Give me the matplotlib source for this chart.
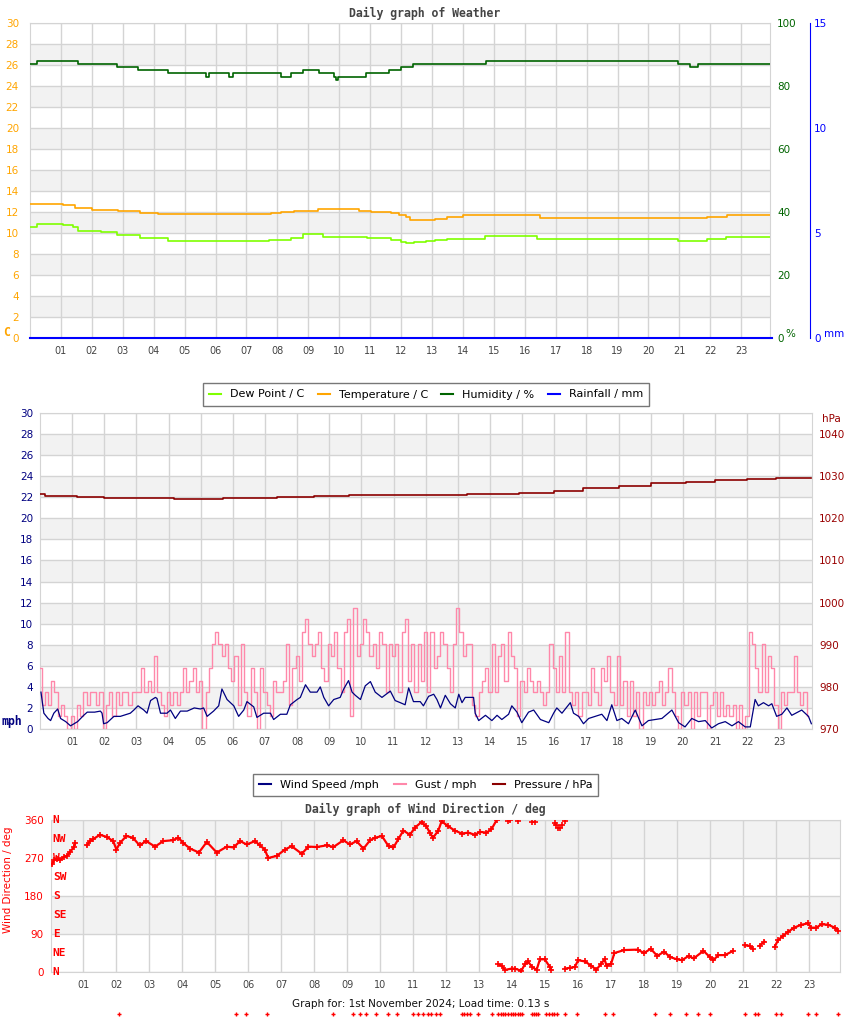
import matplotlib
matplotlib.use("Agg")
import matplotlib.pyplot as plt
import numpy as np
from matplotlib.lines import Line2D

W, H = 850, 1017

# ---------------- data ----------------
hours = ["%02d" % h for h in range(1, 24)]

# panel 1 (steps: time in hours, value)
temp_t = [0, 1.08, 1.45, 1.99, 2.85, 3.55, 4.14, 7.8, 8.12, 8.55, 9.3, 10.65, 11.02, 11.67,
          11.94, 12.15, 12.3, 13.1, 13.5, 14.0, 16.5, 21.9, 22.53, 24.0]
temp_v = [12.73, 12.64, 12.38, 12.22, 12.1, 11.9, 11.81, 11.87, 12.0, 12.1, 12.25, 12.1, 11.96, 11.87,
          11.68, 11.49, 11.2, 11.37, 11.56, 11.68, 11.4, 11.52, 11.71, 11.71]
dew_t = [0, 0.22, 1.08, 1.4, 1.56, 2.31, 2.8, 3.55, 4.46, 7.74, 8.44, 8.82, 9.46, 10.9, 11.67,
         11.99, 12.15, 12.42, 12.8, 13.1, 13.5, 14.7, 16.4, 20.95, 21.9, 22.5, 24.0]
dew_v = [10.6, 10.89, 10.8, 10.57, 10.22, 10.06, 9.81, 9.56, 9.24, 9.33, 9.56, 9.87, 9.65, 9.5, 9.33,
         9.17, 9.0, 9.13, 9.2, 9.3, 9.46, 9.68, 9.46, 9.27, 9.43, 9.59, 9.59]
hum_t = [0, 0.22, 1.54, 2.8, 3.5, 4.47, 5.7, 5.8, 6.45, 6.55, 8.12, 8.44, 8.83, 9.35, 9.83, 9.9,
         9.95, 10.86, 11.6, 11.99, 12.38, 14.76, 20.96, 21.35, 21.6, 24.0]
hum_v = [87, 88, 87, 86, 85, 84, 83, 84, 83, 84, 83, 84, 85, 84, 83, 82,
         83, 84, 85, 86, 87, 88, 87, 86, 87, 87]
rain_t = [0, 24.0]
rain_v = [0, 0]

# panel 2
wind_t = [0.03, 0.12, 0.25, 0.33, 0.43, 0.55, 0.64, 0.8, 0.95, 1.17, 1.36, 1.47, 1.7, 1.88, 1.93, 1.98,
          2.09, 2.3, 2.5, 2.81, 2.92, 3.05, 3.23, 3.33, 3.44, 3.59, 3.64, 3.75, 3.95, 4.06, 4.21, 4.37,
          4.58, 4.8, 4.99, 5.09, 5.2, 5.4, 5.56, 5.66, 5.82, 6.03, 6.18, 6.34, 6.44, 6.65, 6.75, 6.96,
          7.17, 7.27, 7.48, 7.68, 7.79, 8.0, 8.1, 8.26, 8.41, 8.62, 8.72, 8.83, 8.98, 9.14, 9.34, 9.45,
          9.6, 9.71, 9.81, 9.97, 10.12, 10.28, 10.43, 10.64, 10.9, 11.05, 11.21, 11.36, 11.47, 11.62,
          11.83, 11.93, 12.09, 12.25, 12.35, 12.46, 12.61, 12.77, 12.92, 13.03, 13.13, 13.23, 13.49,
          13.54, 13.65, 13.86, 14.06, 14.22, 14.37, 14.58, 14.68, 14.84, 14.99, 15.2, 15.36, 15.57,
          15.83, 15.98, 16.08, 16.24, 16.5, 16.6, 16.76, 16.91, 17.07, 17.28, 17.48, 17.64, 17.79,
          17.95, 18.1, 18.31, 18.52, 18.73, 18.93, 19.14, 19.35, 19.66, 19.87, 20.07, 20.28, 20.49,
          20.7, 20.9, 21.11, 21.32, 21.53, 21.73, 21.94, 22.1, 22.25, 22.35, 22.51, 22.67, 22.77,
          22.92, 23.08, 23.24, 23.39, 23.7, 23.91, 24.0]
wind_v = [3.5, 1.5, 1.0, 0.8, 1.5, 1.9, 1.0, 0.7, 0.3, 0.7, 1.3, 1.6, 1.6, 1.7, 1.5, 0.5,
          0.6, 1.2, 1.2, 1.5, 1.8, 2.2, 1.8, 1.5, 2.7, 3.0, 2.9, 1.5, 1.5, 1.8, 1.0, 1.7,
          1.7, 2.0, 1.9, 2.0, 1.2, 1.7, 2.2, 3.8, 2.8, 2.2, 1.2, 1.8, 2.6, 2.1, 1.1, 1.5,
          1.5, 0.9, 1.4, 1.4, 2.3, 2.8, 3.0, 4.2, 3.5, 3.5, 4.0, 3.0, 2.2, 2.8, 3.0, 3.8,
          4.6, 3.5, 3.2, 2.8, 4.1, 4.5, 3.5, 3.0, 3.6, 2.7, 2.5, 2.3, 3.9, 2.6,
          2.6, 2.2, 3.1, 3.3, 2.8, 2.0, 3.2, 2.4, 2.0, 3.3, 2.5, 3.0, 3.0,
          1.5, 0.8, 1.3, 0.8, 1.3, 0.9, 1.4, 2.2, 1.6, 0.6, 1.6, 1.8, 0.9,
          0.6, 1.5, 2.0, 1.5, 2.5, 1.5, 1.2, 0.5, 1.0, 1.2, 1.4, 0.8, 2.3,
          0.8, 1.0, 0.5, 1.8, 0.3, 0.8, 0.9, 1.0, 1.8, 0.6, 0.2, 1.0, 0.7,
          0.8, 0.1, 0.5, 0.7, 0.3, 0.7, 0.2, 0.2, 2.8, 2.2, 2.5, 2.2, 2.4,
          1.2, 1.4, 2.0, 1.3, 1.8, 1.2, 0.5]

gust_step = 0.1  # hours between gust readings
gust_v = [5.8, 2.3, 3.5, 2.3, 4.6, 3.5, 1.2, 2.3, 1.2, 0.0,
          1.2, 0.0, 2.3, 1.2, 3.5, 2.3, 3.5, 3.5, 2.3, 3.5,
          0.0, 2.3, 3.5, 1.2, 3.5, 2.3, 3.5, 3.5, 2.3, 3.5,
          3.5, 3.5, 5.8, 3.5, 4.6, 3.5, 6.9, 3.5, 2.3, 1.2,
          3.5, 2.3, 3.5, 2.3, 3.5, 5.8, 3.5, 4.6, 5.8, 3.5,
          4.6, 0.0, 3.5, 5.8, 8.1, 9.2, 8.1, 6.9, 8.1, 5.8,
          4.6, 6.9, 2.3, 8.1, 3.5, 1.2, 5.8, 3.5, 0.0, 5.8,
          3.5, 2.3, 1.2, 4.6, 3.5, 3.5, 4.6, 8.1, 2.3, 5.8,
          6.9, 4.6, 9.2, 10.4, 8.1, 6.9, 8.1, 9.2, 5.8, 4.6,
          8.1, 6.9, 9.2, 5.8, 3.5, 9.2, 10.4, 1.2, 11.5, 6.9,
          8.1, 10.4, 9.2, 6.9, 8.1, 5.8, 9.2, 8.1, 3.5, 8.1,
          6.9, 8.1, 3.5, 9.2, 10.4, 4.6, 8.1, 3.5, 8.1, 4.6,
          9.2, 3.5, 9.2, 5.8, 6.9, 9.2, 8.1, 5.8, 3.5, 8.1,
          11.5, 9.2, 6.9, 8.1, 8.1, 2.3, 1.2, 3.5, 4.6, 5.8,
          3.5, 8.1, 3.5, 6.9, 8.1, 4.6, 9.2, 6.9, 5.8, 1.2,
          4.6, 3.5, 5.8, 4.6, 3.5, 4.6, 3.5, 2.3, 3.5, 8.1,
          5.8, 3.5, 6.9, 3.5, 9.2, 3.5, 2.3, 3.5, 1.2, 3.5,
          3.5, 2.3, 5.8, 3.5, 2.3, 5.8, 4.6, 6.9, 3.5, 2.3,
          6.9, 2.3, 4.6, 1.2, 4.6, 1.2, 3.5, 0.0, 3.5, 2.3,
          3.5, 2.3, 3.5, 4.6, 2.3, 3.5, 5.8, 3.5, 1.2, 0.0,
          3.5, 2.3, 3.5, 0.0, 3.5, 1.2, 3.5, 3.5, 0.0, 2.3,
          3.5, 1.2, 3.5, 1.2, 2.3, 1.2, 2.3, 0.0, 2.3, 0.0,
          1.2, 9.2, 8.1, 5.8, 3.5, 8.1, 3.5, 6.9, 5.8, 2.3,
          0.0, 3.5, 2.3, 3.5, 3.5, 6.9, 3.5, 2.3, 3.5, 1.2]

pres_t = [0, 0.17, 1.15, 1.98, 4.16, 5.7, 7.37, 8.51, 9.6, 11.4, 13.3, 14.9, 16.0, 16.9,
          18.0, 19.0, 20.1, 21.0, 22.0, 22.9, 24.0]
pres_v = [1025.7, 1025.3, 1025.0, 1024.8, 1024.6, 1024.8, 1025.0, 1025.3, 1025.6, 1025.5, 1025.8,
          1026.1, 1026.6, 1027.2, 1027.6, 1028.4, 1028.7, 1029.1, 1029.3, 1029.5, 1029.5]

# panel 3 (nan = gap in record)
dir_t = [0.05, 0.1, 0.2, 0.3, 0.4, 0.5, 0.6, 0.7, 0.75, 0.9,
         1.1, 1.2, 1.3, 1.5, 1.7, 1.9, 2.0, 2.1, 2.3, 2.5, 2.7, 2.9, 3.17, 3.42, 3.7, 3.88, 4.03,
         4.24, 4.5, 4.74, 5.04, 5.35, 5.55, 5.75, 5.95, 6.2, 6.35, 6.5, 6.6, 6.86, 7.11, 7.31,
         7.62, 7.82, 8.07, 8.38, 8.58, 8.88, 9.08, 9.28, 9.49, 9.69, 9.84, 10.05, 10.25, 10.4,
         10.55, 10.7, 10.9, 11.05, 11.25, 11.4, 11.5, 11.6, 11.76, 11.86, 12.06, 12.26, 12.47,
         12.67, 12.87, 13.02, 13.22, 13.37, 13.53, 13.56]
dir_v = [255, 265, 268, 266, 272, 275, 285, 295, 305, np.nan,
         300, 310, 315, 325, 320, 310, 290, 305, 322, 318, 300, 310, 297, 310, 312, 318, 305,
         292, 283, 308, 283, 297, 295, 310, 302, 310, 300, 290, 270, 275, 290, 298,
         280, 297, 296, 300, 296, 312, 302, 310, 292, 312, 318, 322, 298, 295,
         315, 335, 325, 342, 355, 345, 330, 318, 335, 357, 345, 335, 328,
         330, 325, 332, 330, 338, 360, np.nan]
north_t = [13.88, 13.93, 14.18, 14.6, 14.7, 15.3, 15.33, 15.4, 15.45, 15.5, 15.6]
north_v = [358, 359, 357, 355, 356, 352, 348, 340, 342, 348, 357]
low_t = [13.58, 13.68, 13.78, 13.98, 14.08, 14.28, 14.38, 14.48, 14.6, 14.74, 14.84, 14.99, 15.14,
         15.19, 15.4, 15.6, 15.75, 15.9, 16.0, 16.2, 16.4, 16.55, 16.7, 16.8, 16.86, 17.0, 17.1,
         17.4, 17.8, 18.0, 18.2, 18.4, 18.6, 18.8, 19.0, 19.15, 19.35, 19.5, 19.8, 20.0, 20.1,
         20.25, 20.45, 20.7, 20.9, 21.05, 21.2, 21.3, 21.4, 21.5, 21.65, 21.8, 21.96, 22.06,
         22.2, 22.36, 22.55, 22.77, 22.97, 23.07, 23.22, 23.38, 23.58, 23.78, 23.88]
low_v = [18, 15, 5, 8, 8, 3, 18, 25, 12, 5, 30, 30, 12,
         5, np.nan, 8, 10, 12, 28, 25, 15, 5, 20, 30, 15, 20, 45,
         52, 53, 45, 55, 38, 48, 35, 30, 28, 38, 32, 50, 35, 28,
         40, 40, 50, np.nan, 63, 62, 55, np.nan, 62, 72, np.nan, 60, 75,
         85, 95, 105, 112, 115, 105, 105, 113, 112, 105, 98]
stray_t = [2.09, 5.61, 5.93, 6.56, 8.58, 9.16, 9.38, 9.57, 9.86, 10.24, 10.52, 11.0, 11.15, 11.3,
           11.44, 11.55, 11.7, 11.8, 12.47, 12.55, 12.63, 12.72, 12.97, 13.38, 13.57, 13.65, 13.72,
           13.78, 13.87, 13.95, 14.02, 14.1, 14.18, 14.25, 14.3, 14.59, 14.65, 14.72, 14.79, 15.04,
           15.12, 15.2, 15.28, 15.35, 15.6, 15.95, 16.81, 17.06, 18.32, 18.78, 19.28, 19.64, 19.99,
           21.05, 21.35, 21.45, 22.0, 22.16, 22.97, 23.22, 23.88]
stray_v = [-100] * len(stray_t)
compass = ["N", "NE", "E", "SE", "S", "SW", "W", "NW", "N"]

# ---------------- styling helpers ----------------
GRID = "#d4d4d4"
BAND = "#f2f2f2"
XTXT = "#444444"
MONO = "DejaVu Sans Mono"


def box(x0, y0, x1, y1):
    return [x0 / W, 1 - y1 / H, (x1 - x0) / W, (y1 - y0) / H]


def base_axes(rect, xmax, ylo, yhi, ystep, bands):
    ax = fig.add_axes(rect)
    ax.set_xlim(0, xmax)
    ax.set_ylim(ylo, yhi)
    for lo, hi in bands:
        ax.axhspan(lo, hi, color=BAND, zorder=0, lw=0)
    for y in np.arange(ylo, yhi + 0.01, ystep):
        ax.axhline(y, color=GRID, lw=1, zorder=0.5)
    for h in range(1, 24):
        ax.axvline(h, color=GRID, lw=1, zorder=0.5)
    ax.set_xticks(range(1, 24))
    ax.set_xticklabels(hours)
    ax.set_yticks(np.arange(ylo, yhi + 0.01, ystep))
    ax.tick_params(axis="x", length=0, pad=6, labelsize=7, labelcolor=XTXT)
    ax.tick_params(axis="y", length=0, labelsize=7.5)
    for s in ax.spines.values():
        s.set_color(GRID)
    return ax


fig = plt.figure(figsize=(W / 100, H / 100), dpi=100)

# ---------------- panel 1 : weather ----------------
ax1 = base_axes(box(30, 23, 770, 338), 23.93, 0, 30, 2, [(v, v + 2) for v in range(2, 30, 4)])
ax1.tick_params(axis="y", labelcolor="#ffa500", pad=8)
ax1.plot(dew_t, dew_v, drawstyle="steps-post", color="#7fff00", lw=1.2, zorder=3)
ax1.plot(temp_t, temp_v, drawstyle="steps-post", color="#ffa500", lw=1.2, zorder=3)

ax1h = ax1.twinx()
ax1h.set_ylim(0, 100)
ax1h.set_yticks(range(0, 101, 20))
ax1h.tick_params(axis="y", length=0, labelsize=7.5, labelcolor="#006400", pad=5)
for s in ax1h.spines.values():
    s.set_visible(False)
ax1h.plot(hum_t, hum_v, drawstyle="steps-post", color="#006400", lw=1.2)

ax1r = ax1.twinx()
ax1r.set_ylim(0, 15)
ax1r.set_yticks([0, 5, 10, 15])
for k, s in ax1r.spines.items():
    s.set_visible(k == "right")
ax1r.spines["right"].set_position(("outward", 28.8))
ax1r.spines["right"].set_color("#0000ff")
ax1r.tick_params(axis="y", length=0, labelsize=7.5, labelcolor="#0000ff", pad=3)
ax1r.plot(rain_t, rain_v, color="#0000ff", lw=1.5, clip_on=False)

fig.text(0.5, 1 - 13 / H, "Daily graph of Weather", ha="center", va="center",
         family=MONO, weight="bold", size=8.3, color="#444444")
fig.text(3 / W, 1 - 332 / H, "C", family=MONO, weight="bold", size=8.3, color="#ffa500", va="center")
fig.text(785 / W, 1 - 334 / H, "%", size=7.5, color="#006400", va="center")
fig.text(824 / W, 1 - 334 / H, "mm", size=7.5, color="#0000ff", va="center")

h1 = [Line2D([], [], color=c, lw=1.5) for c in ["#7fff00", "#ffa500", "#006400", "#0000ff"]]
lg1 = fig.legend(h1, ["Dew Point / C", "Temperature / C", "Humidity / %", "Rainfall / mm"],
                 loc="center", bbox_to_anchor=(426 / W, 1 - 394.5 / H), ncol=4, fontsize=8,
                 frameon=True, fancybox=False, edgecolor="#777777", framealpha=1,
                 handlelength=1.1, handletextpad=0.8, columnspacing=1.2, borderpad=0.55)
lg1.get_frame().set_linewidth(1)

# ---------------- panel 2 : wind & pressure ----------------
ax2 = base_axes(box(40, 413, 812, 729), 24.02, 0, 30, 2, [(v, v + 2) for v in range(2, 30, 4)])
ax2.tick_params(axis="y", labelcolor="#000080", pad=5)
gust_t = [i * gust_step for i in range(len(gust_v))]
ax2.plot(gust_t, gust_v, drawstyle="steps-mid", color="#ff88aa", lw=1.0, zorder=3)
ax2.plot(wind_t, wind_v, color="#000080", lw=0.9, zorder=4)

ax2r = ax2.twinx()
ax2r.set_ylim(970, 1045)
ax2r.set_yticks(range(970, 1041, 10))
for s in ax2r.spines.values():
    s.set_visible(False)
ax2r.tick_params(axis="y", length=0, labelsize=7.5, labelcolor="#990000", pad=5)
ax2r.plot(pres_t, pres_v, drawstyle="steps-post", color="#8b0000", lw=1.2)

fig.text(1 / W, 1 - 722 / H, "mph", family=MONO, weight="bold", size=8.3, color="#000080", va="center")
fig.text(822 / W, 1 - 419 / H, "hPa", size=7.5, color="#990000", va="center")

h2 = [Line2D([], [], color=c, lw=1.5) for c in ["#000080", "#ff88aa", "#8b0000"]]
lg2 = fig.legend(h2, ["Wind Speed /mph", "Gust / mph", "Pressure / hPa"],
                 loc="center", bbox_to_anchor=(425.5 / W, 1 - 785 / H), ncol=3, fontsize=8,
                 frameon=True, fancybox=False, edgecolor="#777777", framealpha=1,
                 handlelength=1.1, handletextpad=0.8, columnspacing=1.4, borderpad=0.55)
lg2.get_frame().set_linewidth(1)

# ---------------- panel 3 : wind direction ----------------
ax3 = base_axes(box(50.5, 820, 840, 972), 23.94, 0, 360, 90, [(90, 180), (270, 360)])
ax3.tick_params(axis="y", labelcolor="#ff0000", pad=5)
mk = dict(color="#ff0000", marker="+", ms=4, mew=1.2, lw=1.6, zorder=3)
ax3.plot(dir_t, dir_v, **mk)
ax3.plot(north_t, north_v, color="#ff0000", marker="+", ms=4, mew=1.2, ls="none", zorder=3)
ax3.plot(low_t, low_v, **mk)
ax3.plot(stray_t, stray_v, color="#ff0000", marker="+", ms=3, mew=1, ls="none", clip_on=False)
for i, lab in enumerate(compass):
    ax3.text(0.003, i * 45, lab, transform=ax3.get_yaxis_transform(), family=MONO,
             weight="bold", size=8, color="#ff0000", va="center", ha="left")

fig.text(0.5, 1 - 809 / H, "Daily graph of Wind Direction / deg", ha="center", va="center",
         family=MONO, weight="bold", size=8.3, color="#444444")
fig.text(8 / W, 1 - 880 / H, "Wind Direction / deg", rotation=90, ha="center", va="center",
         size=7.5, color="#ff0000")
fig.text(421 / W, 1 - 1004 / H, "Graph for: 1st November 2024; Load time: 0.13 s",
         ha="center", va="center", size=7.5, color="#111111")

fig.savefig("out.png", dpi=100)
